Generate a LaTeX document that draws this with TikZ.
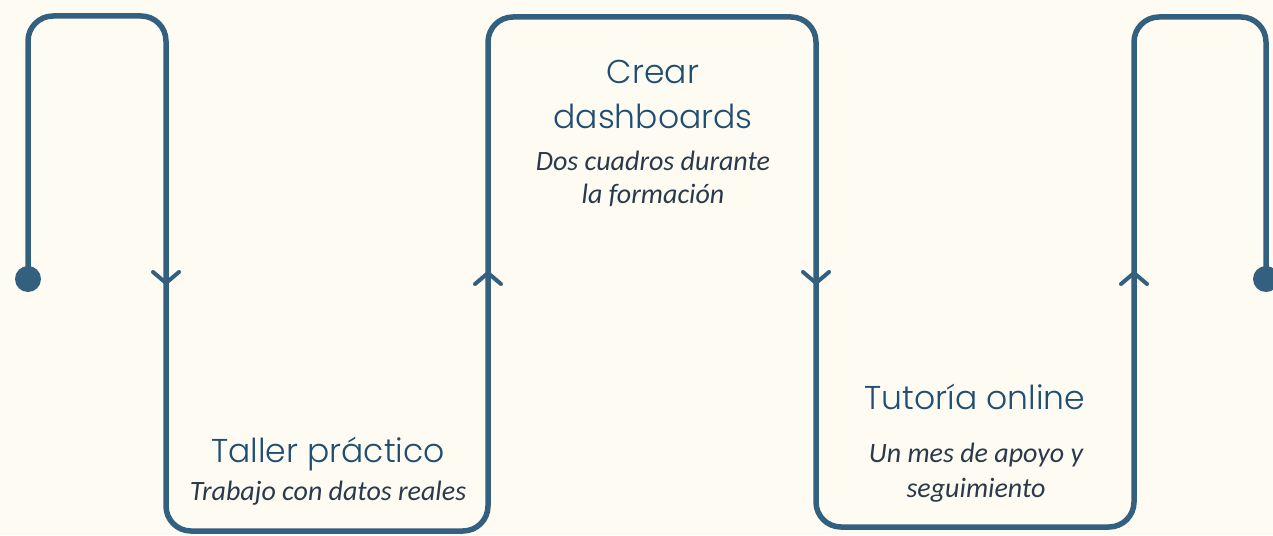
\documentclass[tikz,border=0pt]{standalone}
\usepackage{fontspec}
\setmainfont{Carlito}
\newfontfamily\titlefont{Poppins Light}
\definecolor{bg}{HTML}{FEFBF3}
\definecolor{linec}{HTML}{34607F}
\definecolor{titlec}{HTML}{1F4E72}
\definecolor{subc}{HTML}{2B3A4A}
\tikzset{
  flow/.style={draw=linec, line width=5.5pt, rounded corners=25pt, line join=round},
  chev/.style={draw=linec, line width=4pt, line cap=round, line join=round},
  dotc/.style={fill=linec},
  ttl/.style={text=titlec, font=\titlefont\fontsize{33}{40}\selectfont, anchor=base, inner sep=0pt},
  sub/.style={text=subc, font=\itshape\fontsize{28}{34}\selectfont, anchor=base, inner sep=0pt},
}
\begin{document}
\begin{tikzpicture}[x=1pt, y=-1pt]
\fill[bg] (0,0) rectangle (1273,535);
\useasboundingbox (0,0) rectangle (1273,535);
% path coordinates
\coordinate (p0) at (28,279);
\coordinate (p1) at (28,16);
\coordinate (p2) at (166,16);
\coordinate (p3) at (166,531);
\coordinate (p4) at (488,531);
\coordinate (p5) at (488,17);
\coordinate (p6) at (816,17);
\coordinate (p7) at (816,527);
\coordinate (p8) at (1134,527);
\coordinate (p9) at (1134,17);
\coordinate (p10) at (1266,17);
\coordinate (p11) at (1266,279);
\draw[flow] (p0) -- (p1) -- (p2) -- (p3) -- (p4) -- (p5) -- (p6) -- (p7) -- (p8) -- (p9) -- (p10) -- (p11);
% arrows
\coordinate (a1) at (166,283);
\coordinate (a2) at (488,273);
\coordinate (a3) at (816,283);
\coordinate (a4) at (1134,273);
\draw[chev] (a1) ++(-13,-11) -- (a1) -- ++(13,-11);
\draw[chev] (a2) ++(-13,11) -- (a2) -- ++(13,11);
\draw[chev] (a3) ++(-13,-11) -- (a3) -- ++(13,-11);
\draw[chev] (a4) ++(-13,11) -- (a4) -- ++(13,11);
% dots
\fill[dotc] (p0) circle (13);
\fill[dotc] (p11) circle (13);
% texts
\node[ttl] (t1) at (328,462) {Taller práctico};
\node[sub] (s1) at (328,500) {Trabajo con datos reales};
\node[ttl] (t2a) at (653,83) {Crear};
\node[ttl] (t2b) at (653,128) {dashboards};
\node[sub] (s2a) at (653,170) {Dos cuadros durante};
\node[sub] (s2b) at (653,203) {la formación};
\node[ttl] (t3) at (975,409) {Tutoría online};
\node[sub] (s3a) at (976,462) {Un mes de apoyo y};
\node[sub] (s3b) at (976,497) {seguimiento};
\end{tikzpicture}
\end{document}
